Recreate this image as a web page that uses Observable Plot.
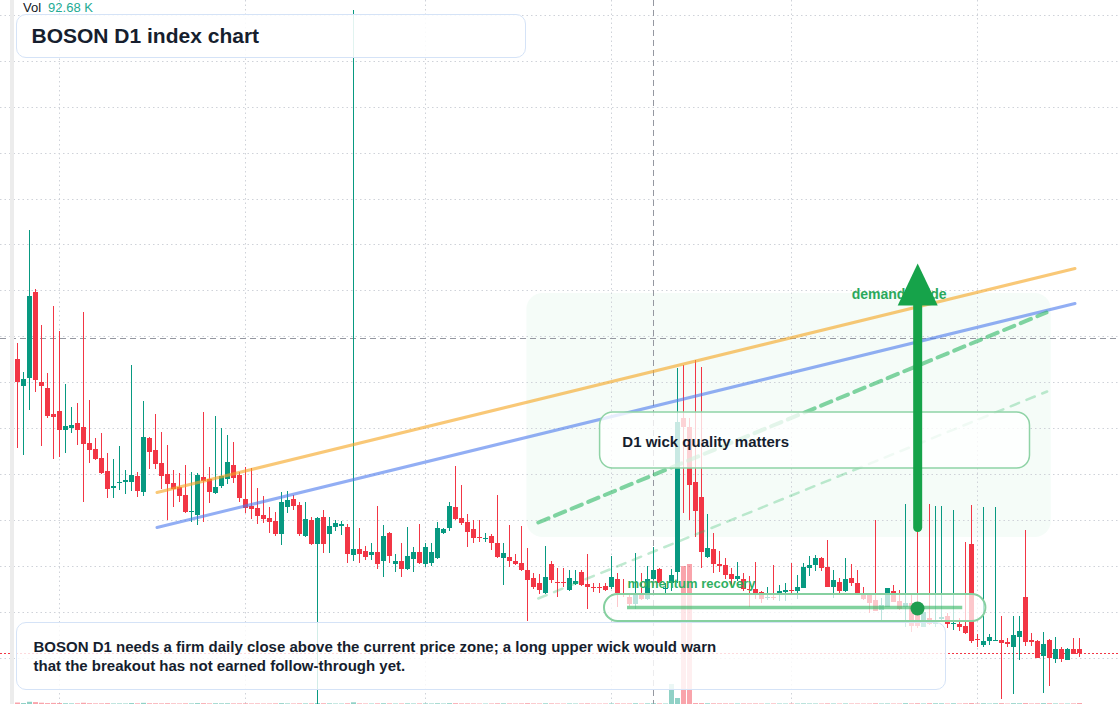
<!DOCTYPE html>
<html>
<head>
<meta charset="utf-8">
<script src="https://cdn.jsdelivr.net/npm/d3@7"></script>
<script src="https://cdn.jsdelivr.net/npm/@observablehq/plot@0.6"></script>
<style>
  html, body { margin: 0; padding: 0; background: #ffffff; }
  #wrap { position: relative; width: 1120px; height: 704px; overflow: hidden;
          font-family: "Liberation Sans", Arial, Helvetica, sans-serif; background: #ffffff; }
  #chart svg { display: block; }
  #strip { position: absolute; left: 10px; top: 0; width: 4px; height: 704px; background: #ececec; }
  #vol { position: absolute; left: 23px; top: 0px; font-size: 13px; line-height: 16px; color: #131722; }
  #vol span { color: #22ab94; margin-left: 7px; }
  .box { position: absolute; box-sizing: border-box; background: rgba(255,255,255,0.88);
         border: 1.5px solid #d5e3f7; border-radius: 10px; color: #161e2e; font-weight: bold; }
  #title { left: 16px; top: 14px; width: 510px; height: 44px; font-size: 21px; line-height: 41px; padding-left: 14.5px; }
  #note { left: 16px; top: 622px; width: 930px; height: 68px; font-size: 15px; line-height: 18.5px;
          padding-left: 16.5px; padding-top: 15px; background: rgba(255,255,255,0.82); }
</style>
</head>
<body>
<div id="wrap">
  <div id="chart"></div>
  <div id="strip"></div>
  <div id="vol">Vol<span>92.68 K</span></div>
  <div class="box" id="title">BOSON D1 index chart</div>
  <div class="box" id="note">BOSON D1 needs a firm daily close above the current price zone; a long upper wick would warn<br>that the breakout has not earned follow-through yet.</div>
</div>
<script>
// ---- daily candles (BOSON, D1) ----
const START = Date.UTC(2025, 1, 22);
const DAY = 864e5;
const dayAt = i => new Date(START + i * DAY);

const open = [
0.2345,0.2318,0.2326,0.2412,0.2322,0.2316,0.2290,0.2293,0.2274,0.2276,
0.2281,0.2277,0.2261,0.2255,0.2246,0.2233,0.2216,0.2221,0.2222,0.2222,
0.2228,0.2212,0.2266,0.2254,0.2241,0.2230,0.2221,0.2217,0.2209,0.2192,
0.2189,0.2227,0.2225,0.2211,0.2218,0.2225,0.2239,0.2229,0.2205,0.2198,
0.2196,0.2189,0.2186,0.2183,0.2170,0.2197,0.2205,0.2199,0.2168,0.2184,
0.2160,0.2187,0.2170,0.2177,0.2178,0.2177,0.2149,0.2155,0.2153,0.2149,
0.2152,0.2143,0.2171,0.2140,0.2143,0.2135,0.2145,0.2152,0.2140,0.2141,
0.2146,0.2171,0.2176,0.2197,0.2186,0.2182,0.2175,0.2167,0.2165,0.2168,
0.2161,0.2146,0.2147,0.2143,0.2141,0.2134,0.2126,0.2121,0.2111,0.2140,
0.2122,0.2122,0.2114,0.2120,0.2132,0.2120,0.2117,0.2117,0.2118,0.2117,
0.2125,0.2111,0.2107,0.2100,0.2109,0.2105,0.2125,0.2135,0.2115,0.2121,
0.2132,0.2286,0.2277,0.2222,0.2207,0.2147,0.2155,0.2140,0.2139,0.2130,
0.2125,0.2125,0.2115,0.2115,0.2112,0.2106,0.2107,0.2110,0.2112,0.2114,
0.2113,0.2116,0.2136,0.2139,0.2146,0.2137,0.2117,0.2122,0.2113,0.2126,
0.2121,0.2111,0.2109,0.2104,0.2094,0.2097,0.2113,0.2103,0.2097,0.2101,
0.2090,0.2077,0.2086,0.2080,0.2085,0.2088,0.2080,0.2080,0.2078,0.2160,
0.2065,0.2059,0.2063,0.2063,0.2064,0.2062,0.2057,0.2067,0.2107,0.2064,
0.2063,0.2048,0.2064,0.2045,0.2055,0.2044,0.2055,0.2055];
const high = [
0.2361,0.2332,0.2474,0.2415,0.2379,0.2331,0.2398,0.2373,0.2320,0.2297,
0.2301,0.2392,0.2304,0.2266,0.2271,0.2251,0.2245,0.2258,0.2234,0.2339,
0.2232,0.2303,0.2267,0.2290,0.2272,0.2259,0.2234,0.2231,0.2239,0.2232,
0.2231,0.2292,0.2237,0.2288,0.2276,0.2269,0.2262,0.2232,0.2237,0.2236,
0.2216,0.2208,0.2197,0.2192,0.2212,0.2213,0.2209,0.2202,0.2202,0.2187,
0.2187,0.2194,0.2187,0.2184,0.2183,0.2180,0.2694,0.2176,0.2158,0.2161,
0.2198,0.2179,0.2172,0.2150,0.2161,0.2177,0.2157,0.2180,0.2161,0.2161,
0.2182,0.2176,0.2202,0.2238,0.2219,0.2190,0.2184,0.2184,0.2171,0.2170,
0.2209,0.2161,0.2179,0.2150,0.2178,0.2156,0.2131,0.2130,0.2158,0.2143,
0.2136,0.2136,0.2134,0.2134,0.2134,0.2150,0.2121,0.2121,0.2121,0.2148,
0.2131,0.2125,0.2109,0.2151,0.2131,0.2138,0.2157,0.2136,0.2121,0.2135,
0.2336,0.2339,0.2286,0.2344,0.2337,0.2190,0.2171,0.2153,0.2146,0.2136,
0.2142,0.2131,0.2128,0.2142,0.2113,0.2117,0.2139,0.2119,0.2121,0.2141,
0.2129,0.2141,0.2148,0.2149,0.2147,0.2164,0.2134,0.2126,0.2146,0.2140,
0.2134,0.2117,0.2110,0.2184,0.2106,0.2116,0.2119,0.2114,0.2200,0.2111,
0.2199,0.2096,0.2200,0.2198,0.2198,0.2091,0.2194,0.2086,0.2162,0.2199,
0.2070,0.2197,0.2070,0.2197,0.2088,0.2066,0.2088,0.2088,0.2174,0.2071,
0.2064,0.2072,0.2065,0.2067,0.2057,0.2056,0.2066,0.2066];
const low = [
0.2256,0.2249,0.2294,0.2312,0.2258,0.2286,0.2245,0.2247,0.2251,0.2271,
0.2259,0.2202,0.2241,0.2244,0.2230,0.2206,0.2206,0.2214,0.2210,0.2213,
0.2207,0.2208,0.2235,0.2235,0.2215,0.2184,0.2197,0.2202,0.2191,0.2182,
0.2179,0.2182,0.2201,0.2210,0.2216,0.2220,0.2221,0.2202,0.2191,0.2185,
0.2180,0.2181,0.2171,0.2168,0.2159,0.2191,0.2194,0.2168,0.2167,0.2159,
0.1999,0.2151,0.2151,0.2173,0.2169,0.2141,0.2143,0.2141,0.2144,0.2144,
0.2135,0.2127,0.2141,0.2132,0.2127,0.2134,0.2132,0.2140,0.2137,0.2138,
0.2145,0.2170,0.2173,0.2184,0.2179,0.2157,0.2161,0.2162,0.2162,0.2154,
0.2146,0.2119,0.2137,0.2139,0.2133,0.2083,0.2115,0.2110,0.2110,0.2121,
0.2107,0.2117,0.2113,0.2119,0.2118,0.2095,0.2112,0.2111,0.2113,0.2115,
0.2097,0.2107,0.2098,0.2095,0.2104,0.2104,0.2124,0.2120,0.2111,0.2113,
0.2121,0.2191,0.2184,0.2167,0.2136,0.2146,0.2131,0.2132,0.2125,0.2118,
0.2123,0.2113,0.2097,0.2105,0.2101,0.2104,0.2104,0.2103,0.2103,0.2109,
0.2105,0.2116,0.2128,0.2133,0.2133,0.2117,0.2106,0.2111,0.2112,0.2118,
0.2109,0.2104,0.2091,0.2093,0.2083,0.2097,0.2102,0.2094,0.2077,0.2072,
0.2076,0.2077,0.2079,0.2077,0.2084,0.2076,0.2074,0.2073,0.2070,0.2061,
0.2057,0.2057,0.2059,0.2063,0.2005,0.2057,0.2010,0.2044,0.2058,0.2058,
0.2046,0.2011,0.2018,0.2041,0.2042,0.2044,0.2050,0.2047];
const close = [
0.2322,0.2325,0.2408,0.2324,0.2318,0.2288,0.2287,0.2274,0.2278,0.2279,
0.2274,0.2260,0.2254,0.2245,0.2231,0.2215,0.2218,0.2222,0.2224,0.2229,
0.2213,0.2267,0.2252,0.2240,0.2228,0.2220,0.2215,0.2208,0.2192,0.2193,
0.2229,0.2223,0.2212,0.2217,0.2228,0.2242,0.2226,0.2206,0.2196,0.2195,
0.2188,0.2185,0.2182,0.2170,0.2202,0.2204,0.2198,0.2170,0.2185,0.2160,
0.2186,0.2160,0.2178,0.2181,0.2180,0.2150,0.2155,0.2150,0.2147,0.2152,
0.2140,0.2168,0.2148,0.2143,0.2135,0.2148,0.2152,0.2141,0.2157,0.2152,
0.2176,0.2175,0.2198,0.2185,0.2181,0.2172,0.2166,0.2166,0.2166,0.2161,
0.2147,0.2151,0.2143,0.2140,0.2134,0.2124,0.2117,0.2114,0.2127,0.2124,
0.2121,0.2121,0.2126,0.2123,0.2119,0.2117,0.2116,0.2116,0.2114,0.2127,
0.2111,0.2109,0.2100,0.2109,0.2105,0.2125,0.2134,0.2121,0.2116,0.2129,
0.2282,0.2277,0.2219,0.2193,0.2152,0.2156,0.2140,0.2138,0.2129,0.2125,
0.2128,0.2115,0.2114,0.2111,0.2105,0.2107,0.2106,0.2113,0.2114,0.2113,
0.2117,0.2137,0.2139,0.2146,0.2136,0.2117,0.2124,0.2113,0.2125,0.2121,
0.2111,0.2105,0.2101,0.2093,0.2099,0.2116,0.2102,0.2095,0.2101,0.2078,
0.2078,0.2092,0.2080,0.2081,0.2087,0.2080,0.2081,0.2077,0.2071,0.2063,
0.2064,0.2063,0.2067,0.2064,0.2061,0.2060,0.2069,0.2073,0.2062,0.2062,
0.2046,0.2060,0.2046,0.2055,0.2045,0.2055,0.2050,0.2051];
// volume in thousands
const volumeK = [
140,95,210,180,120,88,105,96,72,60,
66,118,74,58,62,80,52,55,49,90,
64,110,70,68,61,75,54,50,63,57,
86,78,59,72,66,70,58,61,65,52,
55,48,50,60,82,56,49,63,58,61,
95,70,62,45,44,66,160,58,47,45,
62,74,60,48,55,63,50,57,59,52,
71,46,80,77,58,60,52,44,42,50,
68,64,55,46,58,79,53,51,66,57,
49,44,53,45,50,62,41,40,43,56,
60,48,52,70,47,61,75,58,45,1875,
560,12940,13125,90,85,70,64,60,58,55,
52,56,50,54,48,45,52,47,44,50,
46,58,50,48,47,62,50,45,53,47,
48,43,46,66,49,54,45,46,78,55,
72,52,74,68,65,48,70,45,64,90,
50,71,46,66,82,44,78,68,86,49,
62,81,72,53,50,47,59,92.68];

const UP = "#089981", DOWN = "#f23645";
const candles = open.map((o, i) => ({
  date: dayAt(i), open: o, high: high[i], low: low[i], close: close[i], volume: volumeK[i],
  color: close[i] >= o ? UP : DOWN
}));

// ---- grid / reference levels ----
const gridPrices = [0.2046,0.2092,0.2138,0.2184,0.2230,0.2276,0.2322,0.2368,0.2414,0.2460,0.2505,0.2551,0.2597,0.2643,0.2689];
const monthStarts = d3.utcMonth.range(dayAt(0), dayAt(178));
const crosshairDay = [dayAt(106)];
const crosshairPrice = [0.2366];
const lastPrice = [close[close.length - 1]];

// ---- annotations (day index, price) ----
const zone = [{d1: 84.9, d2: 172.3, p1: 0.2167, p2: 0.2411}];
const resistanceLine = [{d: 23.25, p: 0.2212}, {d: 176.25, p: 0.2436}];
const supportLine = [{d: 23.25, p: 0.2177}, {d: 176.25, p: 0.2401}];
const channelUpper = [{d: 86.8, p: 0.2182}, {d: 171.5, p: 0.2392}];
const channelLower = [{d: 86.8, p: 0.2106}, {d: 171.6, p: 0.2313}];
const wickBox = [{d1: 97.1, d2: 168.75, p1: 0.2236, p2: 0.2292, label: "D1 wick quality matters", d: 100.8, p: 0.2262}];
const recoveryPill = [{d1: 97.83, d2: 161.4, p1: 0.2083, p2: 0.2110}];
const recoveryLevel = [{d1: 101.67, d2: 157.54, p: 0.2097}];
const recoveryDot = [{d: 150, p: 0.2096}];
const recoveryLabel = [{d: 101.67, p: 0.2121, text: "momentum recovery"}];
const demandLabel = [{d: 139.03, p: 0.2410, text: "demand guide"}];
const arrowShaft = [{d: 150.03, p: 0.2177}, {d: 150.03, p: 0.2402}];
const arrowHead = [{d: 146.7, p: 0.2399}, {d: 153.37, p: 0.2399}, {d: 150.03, p: 0.2441}];

const volY = d3.scaleLinear([0, 15000], [0.2000, 0.2160]);
const D = a => dayAt(a);

const chart = Plot.plot({
  width: 1120, height: 704, margin: 0,
  style: {background: "transparent", fontFamily: "'Liberation Sans', Arial, sans-serif"},
  x: {type: "utc", domain: [dayAt(-17 / 6), dayAt((1120 - 17) / 6)], axis: null},
  y: {domain: [0.2000, 0.2704], axis: null},
  marks: [
    Plot.rect(zone, {x1: d => D(d.d1), x2: d => D(d.d2), y1: "p1", y2: "p2", fill: "#22c55e", fillOpacity: 0.045, rx: 16}),
    Plot.ruleY(gridPrices, {stroke: "#cfd2d9", strokeDasharray: "1.5,3"}),
    Plot.ruleX(monthStarts, {stroke: "#cfd2d9", strokeDasharray: "1.5,3"}),
    Plot.ruleX(candles, {x: "date", y1: 0.2000, y2: d => volY(d.volume), stroke: "color", strokeOpacity: 0.45, strokeWidth: 5}),
    Plot.ruleY(lastPrice, {stroke: DOWN, strokeDasharray: "2,2"}),
    Plot.ruleX(crosshairDay, {stroke: "#9598a1", strokeDasharray: "6,4"}),
    Plot.ruleY(crosshairPrice, {stroke: "#9598a1", strokeDasharray: "6,4"}),
    Plot.ruleX(candles, {x: "date", y1: "low", y2: "high", stroke: "color", strokeWidth: 1}),
    Plot.ruleX(candles, {x: "date", y1: "open", y2: "close", stroke: "color", strokeWidth: 5}),
    Plot.line(resistanceLine, {x: d => D(d.d), y: "p", stroke: "#f5a623", strokeOpacity: 0.62, strokeWidth: 3}),
    Plot.line(supportLine, {x: d => D(d.d), y: "p", stroke: "#4a78ec", strokeOpacity: 0.6, strokeWidth: 3}),
    Plot.line(channelUpper, {x: d => D(d.d), y: "p", stroke: "#2fb866", strokeOpacity: 0.6, strokeWidth: 4, strokeDasharray: "11,7"}),
    Plot.line(channelLower, {x: d => D(d.d), y: "p", stroke: "#2fb866", strokeOpacity: 0.3, strokeWidth: 2.5, strokeDasharray: "9,8"}),
    Plot.rect(wickBox, {x1: d => D(d.d1), x2: d => D(d.d2), y1: "p1", y2: "p2", fill: "white", fillOpacity: 0.78, stroke: "#8fd3a6", strokeWidth: 1.5, rx: 13}),
    Plot.text(wickBox, {x: d => D(d.d), y: "p", text: "label", textAnchor: "start", fontSize: 15, fontWeight: "bold", fill: "#161e2e"}),
    Plot.rect(recoveryPill, {x1: d => D(d.d1), x2: d => D(d.d2), y1: "p1", y2: "p2", fill: "white", fillOpacity: 0.72, stroke: "#86d0a0", strokeWidth: 2, rx: 13.5}),
    Plot.ruleY(recoveryLevel, {x1: d => D(d.d1), x2: d => D(d.d2), y: "p", stroke: "#3dba6a", strokeOpacity: 0.65, strokeWidth: 3.5}),
    Plot.dot(recoveryDot, {x: d => D(d.d), y: "p", r: 7, fill: "#1f9d4f", stroke: "none"}),
    Plot.text(recoveryLabel, {x: d => D(d.d), y: "p", text: "text", textAnchor: "start", fontSize: 13, fontWeight: "bold", fill: "#2fb062"}),
    Plot.text(demandLabel, {x: d => D(d.d), y: "p", text: "text", textAnchor: "start", fontSize: 14, fontWeight: "bold", fill: "#2aa85c"}),
    Plot.line(arrowShaft, {x: d => D(d.d), y: "p", stroke: "#16a34a", strokeWidth: 9, strokeLinecap: "round"}),
    Plot.line(arrowHead, {x: d => D(d.d), y: "p", fill: "#16a34a", stroke: "none"})
  ]
});
document.getElementById("chart").appendChild(chart);
</script>
</body>
</html>
